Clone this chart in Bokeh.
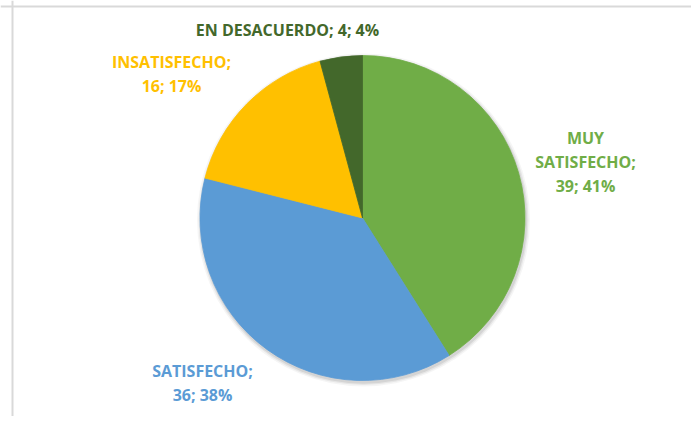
import math
from bokeh.plotting import figure
from bokeh.models import Range1d, ColumnDataSource, Span
from bokeh.core.properties import value
from bokeh.embed import file_html
from bokeh.resources import INLINE

# ---- data ----
categories = ["MUY SATISFECHO", "SATISFECHO", "INSATISFECHO", "EN DESACUERDO"]
counts = [39, 36, 16, 4]
percents = [41, 38, 17, 4]
colors = ["#70AD47", "#5B9BD5", "#FFC000", "#43682B"]

# ---- label layout (pixel-space anchors relative to pie centre, first line) ----
label_lines = [
    ["MUY", "SATISFECHO;", "{v}; {p}%"],
    ["SATISFECHO;", "{v}; {p}%"],
    ["INSATISFECHO;", "{v}; {p}%"],
    ["EN DESACUERDO; {v}; {p}%"],
]
label_anchor = [(223, 80.5), (-160, -152.5), (-191, 156.5), (-75, 188.5)]
line_step = 24
R = 162.5

total = sum(counts)
starts, ends = [], []
a = math.pi / 2
for c in counts:
    ang = c / total * 2 * math.pi
    starts.append(a)
    ends.append(a - ang)
    a -= ang

src = ColumnDataSource(dict(x=[0] * len(counts), y=[0] * len(counts),
                            start=starts, end=ends, color=colors))

p = figure(width=691, height=416, output_backend="svg", toolbar_location=None,
           x_range=Range1d(-362, 329), y_range=Range1d(-198.5, 217.5),
           min_border_left=0, min_border_right=0, min_border_top=0, min_border_bottom=0)
p.axis.visible = False
p.grid.visible = False
p.outline_line_color = None
p.background_fill_color = "white"
p.border_fill_color = "white"

# chart-area border (left and top edges visible)
p.add_layout(Span(location=-350, dimension="height", line_color="#D9D9D9", line_width=2))
p.add_layout(Span(location=211.5, dimension="width", line_color="#D9D9D9", line_width=2))

# soft shadow
for dr, al in [(4, 0.04), (2.5, 0.06), (1.2, 0.08)]:
    p.circle(x=[1], y=[-2], radius=R + dr, fill_color="black", fill_alpha=al, line_color=None)

p.wedge(x="x", y="y", radius=R, start_angle="end", end_angle="start",
        fill_color="color", line_color="color", line_width=0.8, source=src)

tx, ty, tt, tc = [], [], [], []
for i, lines in enumerate(label_lines):
    ax, ay = label_anchor[i]
    for j, ln in enumerate(lines):
        tx.append(ax)
        ty.append(ay - j * line_step)
        tt.append(ln.format(v=counts[i], p=percents[i]))
        tc.append(colors[i])

p.text(x=tx, y=ty, text=tt, text_color=tc, text_align="center", text_baseline="middle",
       text_font=value("Open Sans"), text_font_style="bold", text_font_size="16px")

open("out.html", "w").write(file_html(p, INLINE))
